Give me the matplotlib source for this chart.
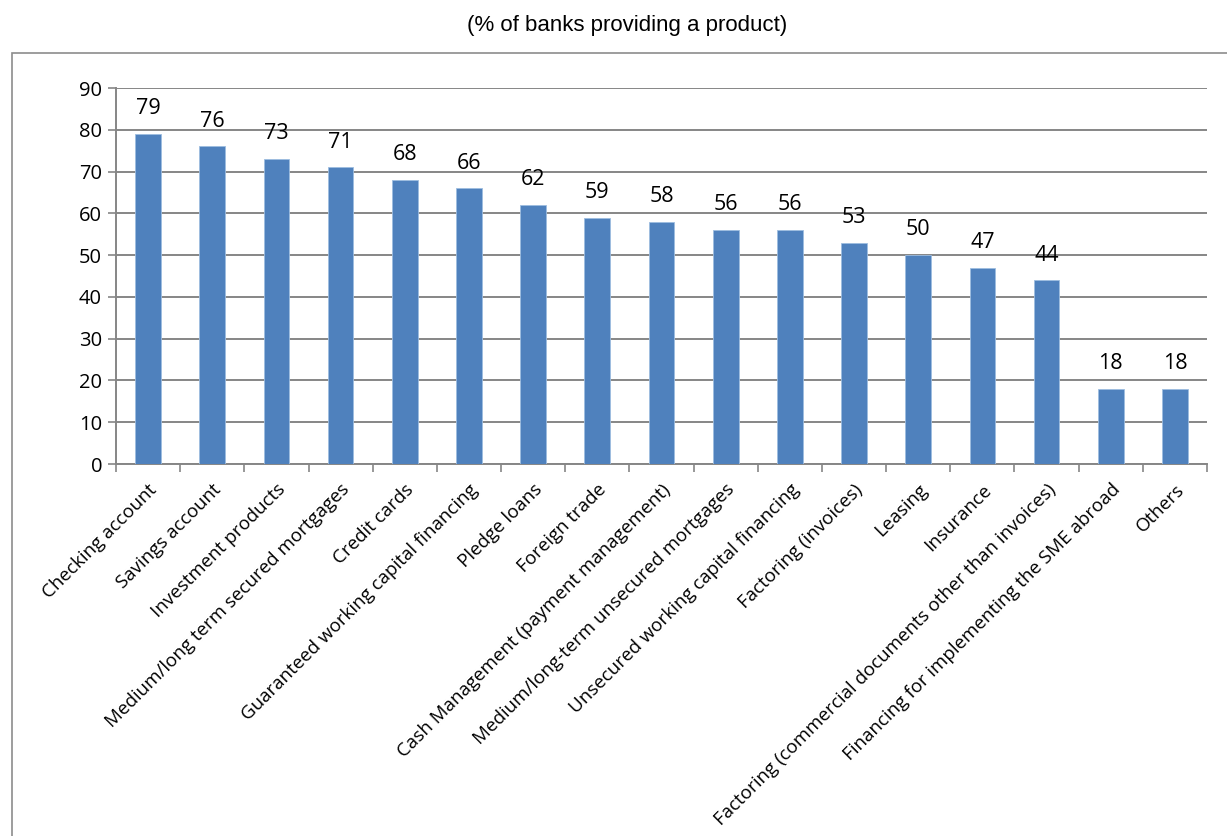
import matplotlib.pyplot as plt
import numpy as np
from matplotlib.patches import Rectangle

products = [
    "Checking account",
    "Savings account",
    "Investment products",
    "Medium/long term secured mortgages",
    "Credit cards",
    "Guaranteed working capital \ufb01nancing",
    "Pledge loans",
    "Foreign trade",
    "Cash Management (payment management)",
    "Medium/long-term unsecured mortgages",
    "Unsecured working capital \ufb01nancing",
    "Factoring (invoices)",
    "Leasing",
    "Insurance",
    "Factoring (commercial documents other than invoices)",
    "Financing for implementing the SME abroad",
    "Others",
]
share = [79, 76, 73, 71, 68, 66, 62, 59, 58, 56, 56, 53, 50, 47, 44, 18, 18]
y_ticks = [0, 10, 20, 30, 40, 50, 60, 70, 80, 90]

plt.rcParams['font.family'] = ['Open Sans', 'DejaVu Sans']

W, H = 1227, 836
fig = plt.figure(figsize=(W / 100, H / 100), dpi=100)
ax = fig.add_axes([116 / W, 1 - 464 / H, (1207 - 116) / W, (464 - 88) / H])

# outer chart frame
fig.patches.append(Rectangle((12 / W, -0.05), 1.1, 1 - 53 / H + 0.05,
                             transform=fig.transFigure, fill=False,
                             edgecolor='#8c8c8c', linewidth=1.2))

fig.text(627 / W, 1 - 25 / H, "(% of banks providing a product)",
         ha='center', va='center', fontsize=16, family='Liberation Sans')

x = np.arange(len(products))
bars = ax.bar(x, share, width=0.4, color='#4f81bd', edgecolor='#9dbde0',
              linewidth=0.6, zorder=3)

for xi, v in zip(x, share):
    ax.text(xi, v + 3.5, str(v), ha='center', va='bottom', fontsize=15.5)

ax.set_ylim(0, 90)
ax.set_xlim(-0.5, len(products) - 0.5)
ax.set_yticks(y_ticks)
ax.tick_params(axis='y', labelsize=14.5, length=6, color='#868686', width=1.2, pad=4)
ax.yaxis.grid(True, color='#868686', linewidth=1.4, zorder=0)

ax.set_xticks(x)
ax.set_xticklabels(products, rotation=45, ha='right', rotation_mode='anchor',
                   fontsize=13.5)
ax.tick_params(axis='x', length=0, pad=12)
ax.set_xticks(np.arange(-0.5, len(products)), minor=True)
ax.tick_params(axis='x', which='minor', length=6, color='#868686', width=1.2)

for s in ['top', 'right']:
    ax.spines[s].set_visible(False)
for s in ['left', 'bottom']:
    ax.spines[s].set_color('#868686')
    ax.spines[s].set_linewidth(1.4)

fig.savefig("out.png", dpi=100)
